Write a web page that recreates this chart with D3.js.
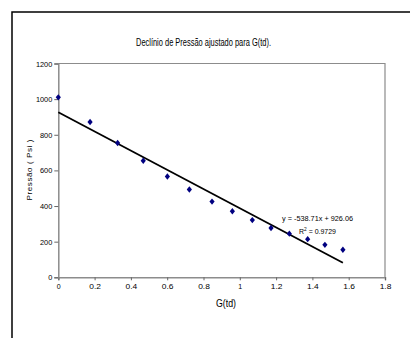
<!DOCTYPE html>
<html>
<head>
<meta charset="utf-8">
<script src="https://cdn.jsdelivr.net/npm/d3@7"></script>
<style>
html,body{margin:0;padding:0;background:#fff;}
svg{display:block;}
text{font-family:"Liberation Sans",Arial,sans-serif;fill:#000;}
</style>
</head>
<body>
<svg id="chart" width="410" height="338"></svg>
<script>
const gtd = [0, 0.175, 0.327, 0.468, 0.601, 0.722, 0.847, 0.959, 1.069, 1.172, 1.273, 1.374, 1.469, 1.568];
const pressao = [1010, 872, 754, 654, 566, 493, 425, 371, 321, 277, 245, 214, 182, 155];
const xTicks = [0, 0.2, 0.4, 0.6, 0.8, 1, 1.2, 1.4, 1.6, 1.8];
const yTicks = [0, 200, 400, 600, 800, 1000, 1200];
const slope = -538.71, intercept = 926.06;
const title = "Declínio de Pressão ajustado para G(td).";
const xLabel = "G(td)";
const yLabel = "Pressão ( Psi )";
const eqText = "y = -538.71x + 926.06";
const r2Text = "0.9729";

const svg = d3.select("#chart");
svg.append("rect").attr("x",12).attr("y",12).attr("width",420).attr("height",360)
  .attr("fill","none").attr("stroke","#000").attr("stroke-width",1.5);

const x = d3.scaleLinear().domain([0,1.8]).range([58.3,385]);
const y = d3.scaleLinear().domain([0,1200]).range([277.3,63.5]);

svg.append("path").attr("d",`M${x(0)},${y(1200)}H${x(1.8)}V${y(0)}`)
  .attr("fill","none").attr("stroke","#8c8c8c").attr("stroke-width",1.2);

const xAxis = svg.append("g").attr("transform",`translate(0,${y(0)})`)
  .call(d3.axisBottom(x).tickValues(xTicks).tickSize(3).tickPadding(3).tickFormat(d3.format("")));
const yAxis = svg.append("g").attr("transform",`translate(${x(0)},0)`)
  .call(d3.axisLeft(y).tickValues(yTicks).tickSize(4).tickPadding(2).tickFormat(d3.format("d")));
[xAxis,yAxis].forEach(a=>{
  a.select(".domain").attr("stroke","#8c8c8c").attr("stroke-width",1.5);
  a.selectAll(".tick line").attr("stroke","#666");
  a.selectAll("text").attr("font-size",8).attr("font-family","'Liberation Sans',Arial,sans-serif").attr("fill","#000");
});
yAxis.selectAll("text").attr("textLength",function(){return this.textContent.length*4.1;}).attr("lengthAdjust","spacingAndGlyphs");
xAxis.selectAll("text").attr("textLength",function(){return this.textContent.length*3.9;}).attr("lengthAdjust","spacingAndGlyphs");

const xMax = d3.max(gtd);
svg.append("line").attr("x1",x(0)).attr("y1",y(intercept))
  .attr("x2",x(xMax)).attr("y2",y(slope*xMax+intercept))
  .attr("stroke","#000").attr("stroke-width",1.8);

svg.selectAll("path.pt").data(gtd).join("path").attr("class","pt")
  .attr("d",(d,i)=>{const cx=x(d), cy=y(pressao[i]); return `M${cx},${cy-3.2}L${cx+2.6},${cy}L${cx},${cy+3.2}L${cx-2.6},${cy}Z`;})
  .attr("fill","#000080");

svg.append("text").attr("x",203.5).attr("y",46).attr("text-anchor","middle")
  .attr("font-size",10.5).attr("textLength",135).attr("lengthAdjust","spacingAndGlyphs").text(title);
svg.append("text").attr("x",226).attr("y",307).attr("text-anchor","middle")
  .attr("font-size",11).attr("textLength",20).attr("lengthAdjust","spacingAndGlyphs").text(xLabel);
svg.append("text").attr("transform",`translate(32,170) rotate(-90)`).attr("text-anchor","middle")
  .attr("font-size",8).attr("textLength",61).attr("lengthAdjust","spacing").text(yLabel);

svg.append("text").attr("x",317.5).attr("y",221).attr("text-anchor","middle")
  .attr("font-size",8).attr("textLength",71).attr("lengthAdjust","spacingAndGlyphs").text(eqText);
const r2 = svg.append("text").attr("x",317.5).attr("y",234).attr("text-anchor","middle")
  .attr("font-size",8).attr("textLength",37).attr("lengthAdjust","spacingAndGlyphs");
r2.append("tspan").text("R");
r2.append("tspan").attr("dy",-3).attr("font-size",5.5).text("2");
r2.append("tspan").attr("dy",3).text(" = " + r2Text);
</script>
</body>
</html>
